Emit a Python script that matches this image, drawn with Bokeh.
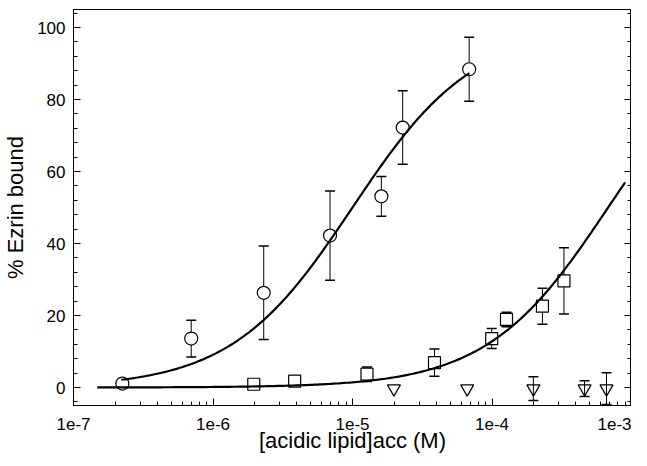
import numpy as np
from bokeh.plotting import figure
from bokeh.models import (Range1d, LinearAxis, FixedTicker, SingleIntervalTicker,
                          CustomJSTickFormatter, Whisker, ColumnDataSource)
from bokeh.embed import file_html
from bokeh.resources import INLINE

# ---- data ----
circ_x = [2.24e-7, 6.98e-7, 2.31e-6, 6.9e-6, 1.61e-5, 2.29e-5, 6.86e-5]
circ_y = [1.1, 13.6, 26.3, 42.2, 53.1, 72.2, 88.4]
circ_err = [0.0, 5.1, 13.0, 12.4, 5.5, 10.2, 8.9]

sq_x = [1.96e-6, 3.85e-6, 1.27e-5, 3.87e-5, 9.95e-5, 1.27e-4, 2.3e-4, 3.28e-4]
sq_y = [0.9, 1.75, 3.7, 6.9, 13.6, 18.9, 22.6, 29.6]
sq_err = [0.0, 0.0, 2.0, 3.8, 2.8, 2.0, 5.0, 9.2]

tri_x = [1.98e-5, 6.64e-5, 1.98e-4, 4.61e-4, 6.62e-4]
tri_y = [-0.3, -0.3, -0.3, -0.3, -0.3]
tri_err = [0.0, 0.0, 3.3, 2.2, 4.4]

# binding-curve fit parameters (Bmax, Kd) and plotted span
circ_fit = dict(bmax=100.0, kd=1.0e-5, x0=2.2e-7, x1=6.9e-5)
sq_fit = dict(bmax=100.0, kd=6.8e-4, x0=1.48e-7, x1=9.0e-4)

x_major = [1e-7, 1e-6, 1e-5, 1e-4, 1e-3]

FONT = "Liberation Sans"

p = figure(width=631, height=462, x_axis_type="log",
           x_range=Range1d(1e-7, 1e-3), y_range=Range1d(-5, 105),
           output_backend="svg", toolbar_location=None,
           min_border_left=68, min_border_right=0, min_border_top=9,
           min_border_bottom=57)
p.grid.visible = False
p.outline_line_color = "black"
p.outline_line_width = 1
p.background_fill_color = "white"

minor = [m * d for d in x_major[:-1] for m in range(2, 10)]
xt = FixedTicker(ticks=x_major, minor_ticks=minor)
yt = SingleIntervalTicker(interval=20, num_minor_ticks=5)

xa = p.xaxis[0]
xa.ticker = xt
xa.formatter = CustomJSTickFormatter(code="return '1e' + Math.round(Math.log10(tick));")
ya = p.yaxis[0]
ya.ticker = yt

for ax in (xa, ya):
    ax.major_tick_in = 7
    ax.major_tick_out = 0
    ax.minor_tick_in = 4
    ax.minor_tick_out = 0
    ax.axis_line_color = "black"
    ax.major_tick_line_color = "black"
    ax.minor_tick_line_color = "black"
    ax.major_label_text_font = FONT
    ax.major_label_text_font_size = "17px"
    ax.major_label_text_color = "black"
    ax.axis_label_text_font = FONT
    ax.axis_label_text_font_size = "22px"
    ax.axis_label_text_font_style = "normal"
    ax.axis_label_text_color = "black"

xa.axis_label = "[acidic lipid]acc (M)"
xa.major_label_standoff = 12
xa.axis_label_standoff = -5
ya.axis_label = "% Ezrin bound"
ya.major_label_standoff = 8
ya.axis_label_standoff = 6

ra = LinearAxis(ticker=yt, formatter=CustomJSTickFormatter(code="return '';"),
                major_tick_in=7, major_tick_out=0, minor_tick_in=4, minor_tick_out=0,
                major_label_standoff=0, major_label_text_font_size="1px")
p.add_layout(ra, "right")

def add_err(xs, ys, es):
    keep = [i for i, e in enumerate(es) if e > 0]
    src = ColumnDataSource(dict(x=[xs[i] for i in keep],
                                lo=[ys[i] - es[i] for i in keep],
                                hi=[ys[i] + es[i] for i in keep]))
    w = Whisker(source=src, base="x", lower="lo", upper="hi", dimension="height",
                line_color="black", line_width=1)
    w.upper_head.size = 10
    w.lower_head.size = 10
    w.upper_head.line_width = 1.5
    w.lower_head.line_width = 1.5
    p.add_layout(w)

add_err(circ_x, circ_y, circ_err)
add_err(sq_x, sq_y, sq_err)
add_err(tri_x, tri_y, tri_err)

p.scatter(circ_x, circ_y, marker="circle", size=13, fill_color="white",
          line_color="black", line_width=1.2)
p.scatter(sq_x, sq_y, marker="square", size=12, fill_color="white",
          line_color="black", line_width=1.2)
p.scatter(tri_x, tri_y, marker="inverted_triangle", size=13, fill_color=None,
          line_color="black", line_width=1.2)

for f in (circ_fit, sq_fit):
    xx = np.logspace(np.log10(f["x0"]), np.log10(f["x1"]), 200)
    yy = f["bmax"] * xx / (f["kd"] + xx)
    p.line(xx, yy, line_color="black", line_width=2.2)

open("out.html", "w").write(file_html(p, INLINE))
